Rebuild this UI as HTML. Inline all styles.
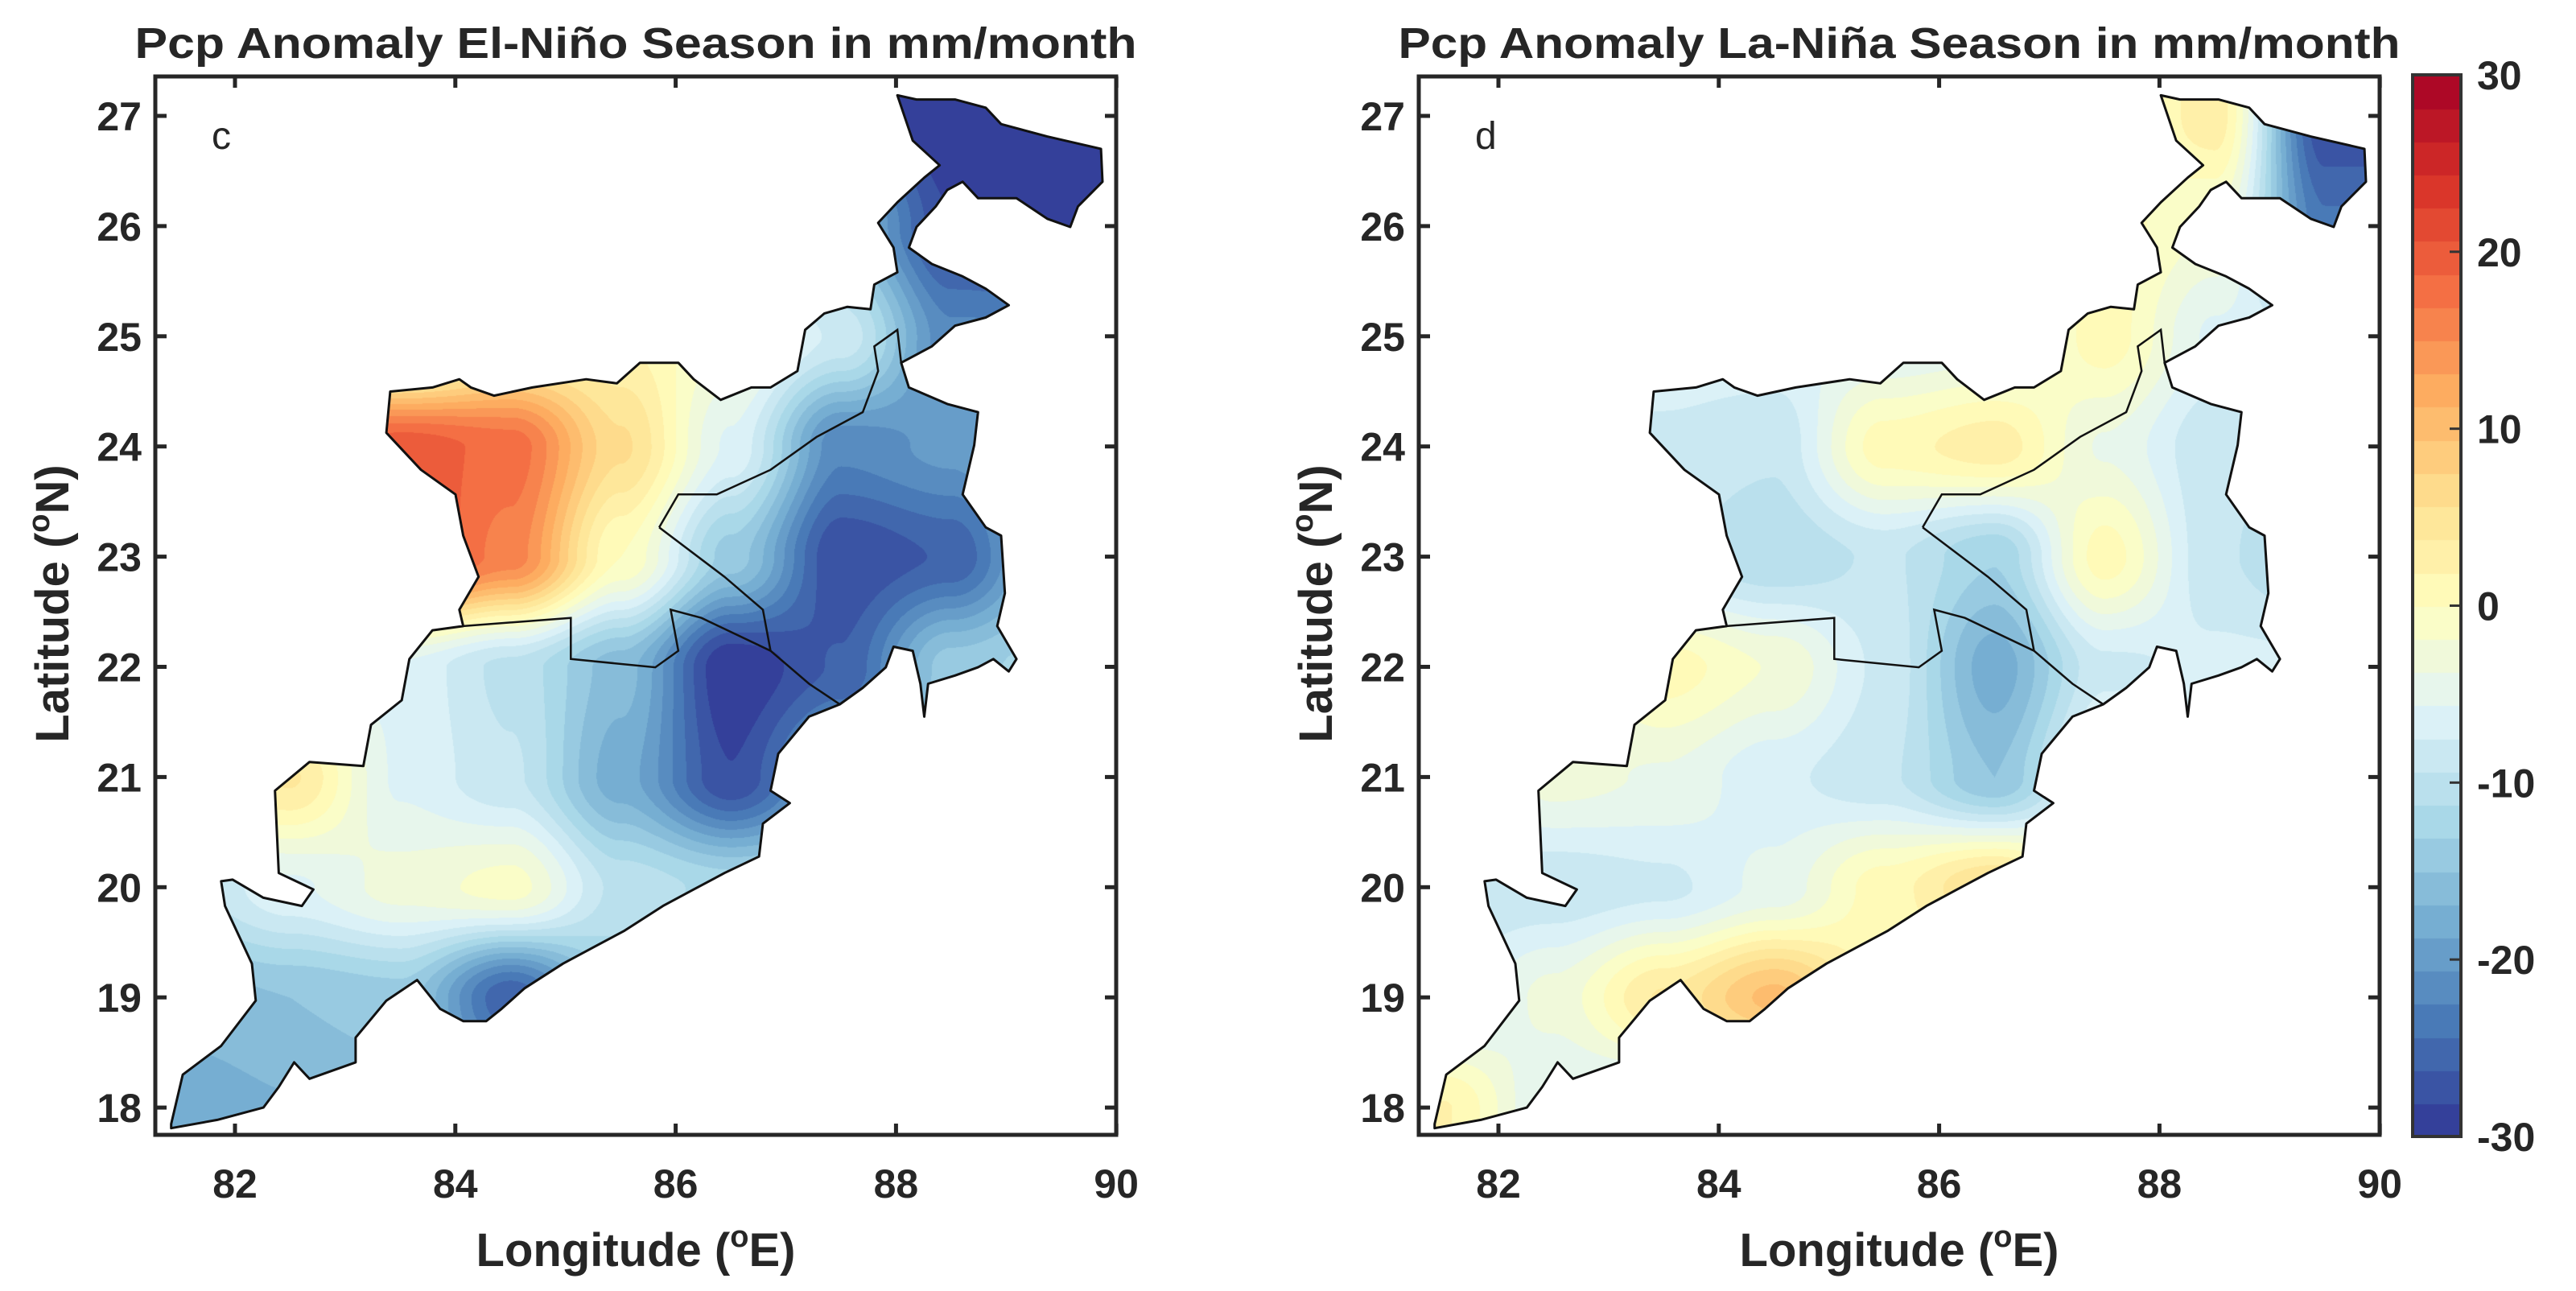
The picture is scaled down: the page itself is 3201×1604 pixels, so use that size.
<!DOCTYPE html>
<html><head><meta charset="utf-8"><style>
html,body{margin:0;padding:0;background:#fff;}
#wrap{position:relative;width:3201px;height:1604px;overflow:hidden;}
canvas{position:absolute;}
svg{position:absolute;left:0;top:0;}
text{font-family:"Liberation Sans",Arial,sans-serif;fill:#262626;}
</style></head><body>
<div id="wrap">
<canvas id="cL" style="left:193px;top:95px" width="1194" height="1315"></canvas>
<canvas id="cR" style="left:1763px;top:95px" width="1194" height="1315"></canvas>
<canvas id="cB" style="left:2998px;top:93px" width="60" height="1319"></canvas>
<svg id="sv" width="3201" height="1604"></svg>
</div>
<script>
// ---- data ----
const gridLons = [81.5,82.5,83.5,84.5,85.5,86.5,87.5,88.5,89.5];
const gridLats = [27,26,25,24,23,22,21,20,19,18];
const elNinoValues = [
 [-8,-8,-8,-8,-8,-8,-26,-30,-30],
 [-8,-8,-8,-8,-8,-10,-16,-28,-30],
 [-6,-6,-6,1,2,-2,-8,-22,-22],
 [12,15,20,18,6,-6,-22,-20,-14],
 [8,14,22,16,0,-14,-28,-26,-14],
 [-8,-8,-6,-10,-16,-30,-26,-14,-12],
 [3,4,-6,-9,-18,-28,-18,-12,-12],
 [-10,-6,-3,-1,-10,-12,-12,-12,-12],
 [-16,-15,-14,-26,-13,-12,-12,-12,-12],
 [-18,-17,-16,-16,-12,-12,-12,-12,-12]
];
const laNinaValues = [
 [-6,-6,-6,-6,-6,-6,-2,3,-28],
 [-6,-6,-6,-6,-6,-4,1,-2,-24],
 [-6,-6,-6,-6,-6,-5,1,-6,-8],
 [-7,-7,-8,-9,1,3,-4,-9,-8],
 [-8,-8,-9,-11,-9,-13,1,-9,-12],
 [-6,-6,1,-2,-8,-18,-8,-7,-7],
 [-7,-3,-4,-7,-9,-15,-4,-4,-4],
 [-9,-9,-8,-5,1,6,-4,-4,-4],
 [-8,-3,4,10,1,-5,-5,-5,-5],
 [2,-6,-8,-8,-8,-8,-8,-8,-8]
];
const xTicks = [82,84,86,88,90];
const yTicks = [18,19,20,21,22,23,24,25,26,27];
const cbTicks = [-30,-20,-10,0,10,20,30];
const cmapStops = ['#313695','#4575b4','#74add1','#abd9e9','#e0f3f8','#ffffbf','#fee090','#fdae61','#f46d43','#d73027','#a50026'];
// boundary (reference-panel tracing units)
const outlineRaw = [[220,1365],[235,1305],[285,1270],[330,1215],[325,1170],[290,1100],[285,1070],[300,1068],[340,1090],[390,1100],[405,1080],[360,1060],[355,960],[400,925],[470,930],[480,880],[520,850],[530,800],[560,765],[600,760],[595,740],[620,700],[600,650],[590,600],[545,570],[500,525],[505,475],[560,470],[595,460],[610,470],[640,480],[690,470],[760,460],[800,465],[830,440],[880,440],[900,460],[935,485],[975,470],[1000,470],[1035,450],[1045,400],[1070,380],[1100,372],[1130,375],[1135,345],[1165,330],[1160,300],[1140,270],[1165,245],[1200,215],[1220,200],[1185,170],[1165,115],[1190,120],[1240,120],[1280,130],[1300,150],[1360,165],[1430,180],[1432,220],[1400,250],[1390,275],[1360,265],[1320,240],[1270,240],[1250,220],[1230,230],[1215,250],[1190,275],[1180,300],[1210,320],[1250,335],[1280,350],[1310,370],[1280,385],[1240,395],[1210,420],[1170,440],[1180,470],[1230,490],[1270,500],[1265,540],[1250,600],[1280,640],[1300,650],[1305,720],[1295,760],[1320,800],[1310,815],[1290,800],[1270,810],[1240,820],[1205,830],[1200,870],[1195,830],[1185,790],[1160,785],[1150,810],[1120,835],[1090,855],[1050,870],[1010,915],[1000,960],[1025,975],[990,1000],[985,1040],[940,1060],[900,1080],[860,1100],[810,1130],[770,1150],[730,1170],[680,1200],[650,1225],[630,1240],[600,1240],[570,1225],[540,1190],[500,1215],[460,1260],[460,1290],[400,1310],[380,1290],[360,1320],[340,1345],[280,1360],[220,1370]];
const border1Raw = [[600,760],[740,750],[740,800],[850,810],[880,790],[870,740],[910,750],[1000,790],[1050,830],[1090,855]];
const border2Raw = [[855,640],[880,600],[930,600],[1000,570],[1060,530],[1120,500],[1140,450],[1135,420],[1165,400],[1170,440]];
const border3Raw = [[855,640],[940,700],[990,740],[1000,790]];
function rawToGeo(p){return [82+(p[0]-303)*8/1147, 27-(p[1]-140)*9/1205];}
const outline = outlineRaw.map(rawToGeo), borders=[border1Raw,border2Raw,border3Raw].map(b=>b.map(rawToGeo));

// ---- axes ----
const BOX={w:1194,h:1315,top:95};
const PPD=136.9;
function xOf(lon,left){return left+99+(lon-82)*PPD;}
function yOf(lat){return 144+(27-lat)*PPD;}
function hex(c){return [1,3,5].map(i=>parseInt(c.substr(i,2),16));}
const stops=cmapStops.map(hex);
const NLEV=32;
function colorFor(v){
  let t=(v+30)/60; t=Math.max(0,Math.min(0.9999,t));
  let k=Math.floor(t*NLEV); let tc=(k+0.5)/NLEV;
  let f=tc*(stops.length-1), i=Math.floor(f), r=f-i;
  let a=stops[i], b=stops[Math.min(i+1,stops.length-1)];
  return [0,1,2].map(j=>Math.round(a[j]+(b[j]-a[j])*r));
}
function sample(vals,lon,lat){
  let fx=(lon-gridLons[0])/(gridLons[1]-gridLons[0]);
  let fy=(gridLats[0]-lat)/(gridLats[0]-gridLats[1]);
  fx=Math.max(0,Math.min(gridLons.length-1.0001,fx)); fy=Math.max(0,Math.min(gridLats.length-1.0001,fy));
  let i=Math.floor(fx),j=Math.floor(fy),u=fx-i,w=fy-j;
  let s=u*u*(3-2*u), q=w*w*(3-2*w);
  return (vals[j][i]*(1-s)+vals[j][i+1]*s)*(1-q)+(vals[j+1][i]*(1-s)+vals[j+1][i+1]*s)*q;
}
function drawField(id,vals,left){
  const cv=document.getElementById(id),ctx=cv.getContext('2d');
  const img=ctx.createImageData(BOX.w,BOX.h);
  for(let y=0;y<BOX.h;y++){for(let x=0;x<BOX.w;x++){
    let lon=82+(x-99)/PPD, lat=27-(y+BOX.top-144)/PPD;
    let c=colorFor(sample(vals,lon,lat)); let o=(y*BOX.w+x)*4;
    img.data[o]=c[0];img.data[o+1]=c[1];img.data[o+2]=c[2];img.data[o+3]=255;}}
  ctx.putImageData(img,0,0);
  ctx.globalCompositeOperation='destination-in';
  ctx.beginPath();
  outline.forEach((p,i)=>{let X=99+(p[0]-82)*PPD,Y=(27-p[1])*PPD+144-BOX.top; i?ctx.lineTo(X,Y):ctx.moveTo(X,Y);});
  ctx.closePath();ctx.fill();
}
drawField('cL',elNinoValues,193);
drawField('cR',laNinaValues,1763);
// colorbar
(function(){const cv=document.getElementById('cB'),ctx=cv.getContext('2d');
 for(let k=0;k<NLEV;k++){let v=-30+(k+0.5)*60/NLEV;let c=colorFor(v);
  ctx.fillStyle='rgb('+c.join(',')+')';let y0=1319-(k+1)*1319/NLEV;ctx.fillRect(0,Math.floor(y0),60,Math.ceil(1319/NLEV)+1);}})();

const NS='http://www.w3.org/2000/svg', sv=document.getElementById('sv');
function el(tag,attrs,txt){const e=document.createElementNS(NS,tag);for(const k in attrs)e.setAttribute(k,attrs[k]);if(txt!==undefined)e.textContent=txt;sv.appendChild(e);return e;}
function panel(left,title,letter,showYLabel,prefix){
  const right=left+BOX.w, bottom=BOX.top+BOX.h;
  let pts=outline.map(p=>xOf(p[0],left).toFixed(1)+','+yOf(p[1]).toFixed(1)).join(' ');
  let o=el('polygon',{points:pts,fill:'none',stroke:'#111','stroke-width':3,'stroke-linejoin':'round'});
  
  
  borders.forEach((b,i)=>{let l=el('polyline',{points:b.map(p=>xOf(p[0],left).toFixed(1)+','+yOf(p[1]).toFixed(1)).join(' '),fill:'none',stroke:'#111','stroke-width':2.5});
    
    });
  let r=el('rect',{x:left,y:BOX.top,width:BOX.w,height:BOX.h,fill:'none',stroke:'#262626','stroke-width':5});
  
  
  xTicks.forEach(t=>{let x=xOf(t,left);
    el('line',{x1:x,x2:x,y1:bottom,y2:bottom-14,stroke:'#262626','stroke-width':5});
    el('line',{x1:x,x2:x,y1:BOX.top,y2:BOX.top+14,stroke:'#262626','stroke-width':5});
    let tl=el('text',{x:x,y:1488,'font-size':50,'font-weight':'bold','text-anchor':'middle'},String(t));
    
    });
  yTicks.forEach(t=>{let y=yOf(t);
    el('line',{x1:left,x2:left+14,y1:y,y2:y,stroke:'#262626','stroke-width':5});
    el('line',{x1:right,x2:right-14,y1:y,y2:y,stroke:'#262626','stroke-width':5});
    let tl=el('text',{x:left-17,y:y+18,'font-size':50,'font-weight':'bold','text-anchor':'end'},String(t));
    
    });
  let tt=el('text',{x:left+597,y:72,'font-size':54,'font-weight':'bold','text-anchor':'middle',fill:'#000',textLength:1245,lengthAdjust:'spacingAndGlyphs'},title);
  
  
  let lt=el('text',{x:left+70,y:185,'font-size':48,fill:'#000'},letter);
  
  
  let xl=el('text',{x:left+597,y:1573,'font-size':58,'font-weight':'bold','text-anchor':'middle',fill:'#262626'});
  xl.innerHTML='Longitude (<tspan dy="-24" font-size="38">o</tspan><tspan dy="24">E)</tspan>';
  
  
  if(showYLabel!==false){
    let cx=left-108, cy=750;
    let yl=el('text',{x:cx,y:cy,'font-size':58,'font-weight':'bold','text-anchor':'middle',transform:'rotate(-90 '+cx+' '+cy+')'});
    yl.innerHTML='Latitude (<tspan dy="-24" font-size="38">o</tspan><tspan dy="24">N)</tspan>';
    
    
  }
}
panel(193,'Pcp Anomaly El-Niño Season in mm/month','c',true,'el-nino');
panel(1763,'Pcp Anomaly La-Niña Season in mm/month','d',true,'la-nina');
// colorbar frame & labels
let cbr=el('rect',{x:2998,y:93,width:60,height:1319,fill:'none',stroke:'#333','stroke-width':4});


function cbY(v){return 1412-(v+30)/60*1319;}
cbTicks.forEach(t=>{let y=cbY(t);
  el('line',{x1:3044,x2:3058,y1:y,y2:y,stroke:'#333','stroke-width':3});
  let tl=el('text',{x:3078,y:y+18,'font-size':50,'font-weight':'bold'},String(t));
  
  });
</script>
</body></html>
